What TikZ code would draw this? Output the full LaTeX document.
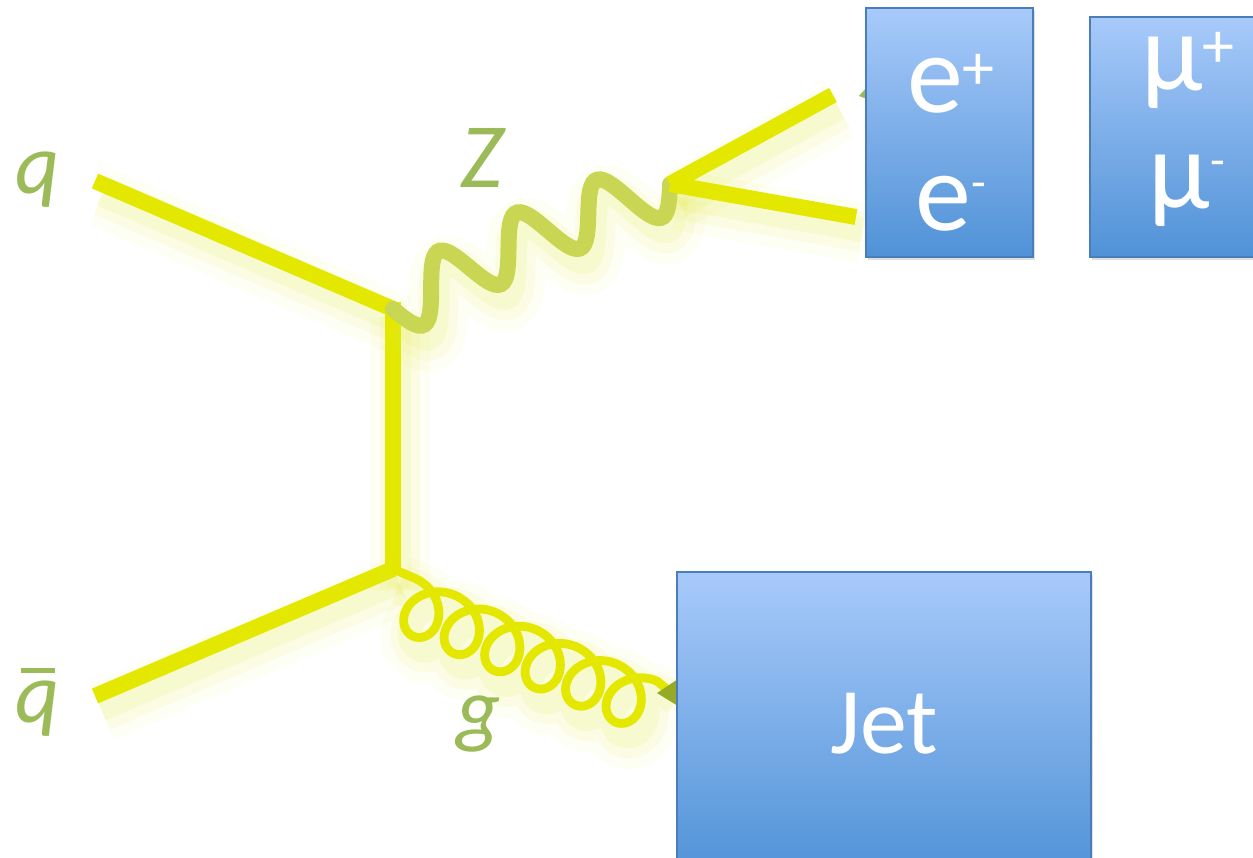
\documentclass[tikz,border=0pt]{standalone}
\usepackage{fontspec}
\setmainfont{Carlito}
\usetikzlibrary{shadows}
\definecolor{qy}{RGB}{228,232,0}
\definecolor{zg}{RGB}{200,214,84}
\definecolor{lg}{RGB}{155,187,89}
\definecolor{btop}{RGB}{168,202,250}
\definecolor{bbot}{RGB}{80,146,215}
\definecolor{bord}{RGB}{74,126,187}
\definecolor{tipg}{RGB}{150,170,40}
\definecolor{glowy}{RGB}{225,232,60}
\newcommand{\supplus}{\raisebox{11.5pt}{\fontsize{32}{32}\selectfont +}}
\newcommand{\supminus}{\raisebox{16pt}{\fontsize{24}{24}\selectfont -}}
\begin{document}
\begin{tikzpicture}[x=0.5pt,y=-0.5pt,
  glow/.style={
    preaction={draw=#1, opacity=0.06, line width=30pt, transform canvas={shift={(3.5pt,-8pt)}}},
    preaction={draw=#1, opacity=0.09, line width=20pt, transform canvas={shift={(3.5pt,-7.5pt)}}},
    preaction={draw=#1, opacity=0.12, line width=12pt, transform canvas={shift={(3pt,-6.5pt)}}}},
  fermion/.style={draw=qy, line width=8pt, glow=glowy},
  boson/.style={draw=zg, line width=8pt, line cap=round, glow=glowy},
  gluon/.style={draw=qy, line width=4.4pt, line join=round, glow=glowy},
  box/.style={draw=bord, line width=0.6pt, top color=btop, bottom color=bbot, inner sep=0pt,
    drop shadow={opacity=0.25, shadow xshift=1pt, shadow yshift=-1.5pt}},
  lbl/.style={text=lg, font=\fontsize{43}{46}\selectfont\itshape, anchor=base, inner sep=0pt},
  big/.style={text=white, font=\fontsize{56}{60}\selectfont, anchor=base, inner sep=0pt},
  jet/.style={text=white, font=\fontsize{47}{50}\selectfont, anchor=base, inner sep=0pt}]
\useasboundingbox (0,0) rectangle (1253,857);
\clip (0,0) rectangle (1253,857);

% vertices and ends
\coordinate (qin) at (95,181);
\coordinate (qbin) at (95,696);
\coordinate (v1) at (393,309);
\coordinate (v1b) at (393,302);
\coordinate (v3) at (393,569);
\coordinate (v3b) at (393,575);
\coordinate (v2) at (670,184);
\coordinate (lup) at (833,95);
\coordinate (ldn) at (856,217);
\coordinate (gend) at (668,690);

% quark lines
\draw[fermion] (qin) -- (v1);
\draw[fermion] (qbin) -- (v3);
\draw[fermion] (v1b) -- (v3b);

% Z boson
\draw[boson, shift={(v1)}] plot[smooth, samples=110, domain=0:1]
  ({277*\x + 0.4113*(29*sin(1260*\x) - 8*sin(180*\x))},
   {-125*\x + 0.9115*(29*sin(1260*\x) - 8*sin(180*\x))});

% leptons
\draw[fermion] (v2) -- (lup);
\draw[fermion] (v2) -- (ldn);

% gluon (prolate cycloid along the axis)
\draw[gluon, shift={(v3)}] (v3) -- plot[samples=420, domain=3.14159:40.8407]
  ({0.9205*(23 + 7*(\x - 3.14159) - 27*sin(\x r)) - 0.3907*(27 + 27*cos(\x r))},
   {0.3907*(23 + 7*(\x - 3.14159) - 27*sin(\x r)) + 0.9205*(27 + 27*cos(\x r))})
  -- (gend);

% hidden arrow tips
\fill[tipg] (657,693) -- (678,679) -- (678,706) -- cycle;
\fill[lg] (859,96) -- (867,87) -- (867,99) -- cycle;

% boxes
\node[box, minimum width=83.5pt, minimum height=124.5pt] (ebox) at (949.5,132.5) {};
\node[box, minimum width=83.5pt, minimum height=120pt] (mbox) at (1173.5,137) {};
\node[box, minimum width=207pt, minimum height=152pt] (jbox) at (884,724) {};

% box texts
\node[big] (ep) at (951,112) {e\supplus};
\node[big] (em) at (951,230) {e\supminus};
\node[big] (mp) at (1188,90) {µ\supplus};
\node[big] (mm) at (1187,208) {µ\supminus};
\node[jet] (jt) at (884,753) {Jet};

% labels
\node[lbl] (lq) at (38,193) {q};
\node[lbl] (lqb) at (38,722) {\rlap{\hspace{2.5pt}\raisebox{24.5pt}{\rule{17pt}{2.6pt}}}q};
\node[lbl, font=\fontsize{46}{50}\selectfont\itshape] (lz) at (482,187) {Z};
\node[lbl] (lgl) at (479,737) {g};
\end{tikzpicture}
\end{document}
